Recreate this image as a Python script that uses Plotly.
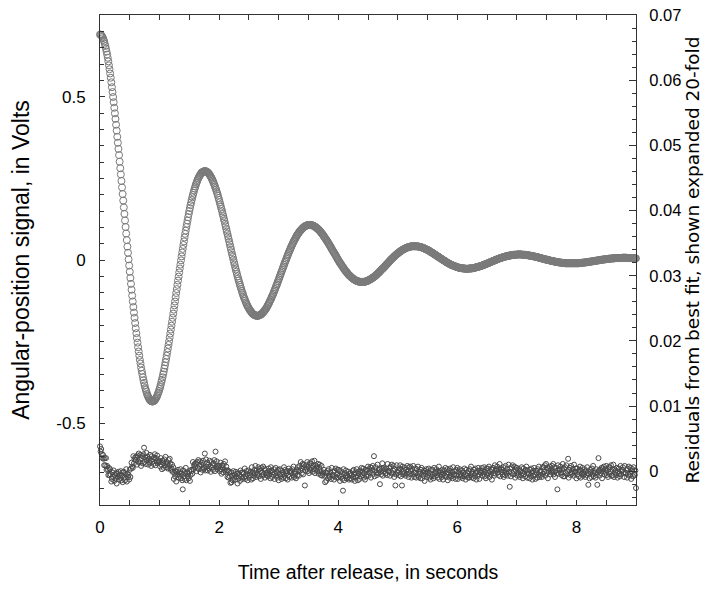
import numpy as np
import plotly.graph_objects as go

# ---- data ----
# Angular-position signal in mV, sampled every 0.01 s; split into the samples at
# even hundredths (t = 0.00, 0.02, ...) and odd hundredths (t = 0.01, 0.03, ...).
sample_step_s = 0.01
signal_mV_even = [
    690, 688, 683, 674, 662, 647, 629, 608, 584, 558, 529, 499, 466, 432, 396, 359, 321, 281, 242, 202, 161, 121,
    81, 41, 2, -36, -73, -109, -144, -177, -209, -239, -267, -293, -317, -339, -359, -376, -392, -404, -415, -423, -429, -432,
    -433, -432, -429, -423, -416, -406, -395, -382, -367, -350, -332, -313, -293, -271, -249, -225, -201, -177, -152, -127, -101, -76,
    -51, -26, -1, 23, 46, 69, 90, 111, 131, 150, 168, 184, 199, 213, 225, 236, 246, 254, 260, 266, 269, 271,
    272, 271, 269, 266, 261, 255, 248, 240, 230, 220, 209, 197, 184, 170, 156, 141, 126, 111, 95, 80, 64, 48,
    32, 16, 1, -14, -29, -43, -57, -70, -82, -94, -105, -116, -125, -134, -142, -148, -154, -159, -164, -167, -169, -170,
    -171, -170, -169, -167, -164, -160, -156, -151, -145, -138, -131, -123, -115, -107, -98, -89, -79, -70, -60, -50, -40, -30,
    -20, -10, -1, 9, 18, 27, 36, 44, 52, 59, 66, 73, 79, 84, 89, 93, 97, 100, 103, 105, 106, 107,
    107, 107, 106, 105, 103, 101, 98, 95, 91, 87, 82, 78, 72, 67, 62, 56, 50, 44, 38, 31, 25, 19,
    13, 6, 0, -6, -11, -17, -22, -28, -33, -37, -42, -46, -49, -53, -56, -59, -61, -63, -65, -66, -67, -67,
    -67, -67, -67, -66, -65, -63, -61, -59, -57, -54, -52, -49, -46, -42, -39, -35, -31, -27, -24, -20, -16, -12,
    -8, -4, 0, 4, 7, 11, 14, 17, 20, 23, 26, 29, 31, 33, 35, 37, 38, 39, 41, 41, 42, 42,
    42, 42, 42, 41, 41, 40, 39, 37, 36, 34, 32, 31, 29, 26, 24, 22, 20, 17, 15, 12, 10, 7,
    5, 3, 0, -2, -4, -7, -9, -11, -13, -15, -16, -18, -19, -21, -22, -23, -24, -25, -25, -26, -26, -27,
    -27, -27, -26, -26, -26, -25, -24, -23, -22, -21, -20, -19, -18, -17, -15, -14, -12, -11, -9, -8, -6, -5,
    -3, -2, 0, 1, 3, 4, 6, 7, 8, 9, 10, 11, 12, 13, 14, 14, 15, 16, 16, 16, 17, 17,
    17, 17, 17, 16, 16, 16, 15, 15, 14, 13, 13, 12, 11, 10, 10, 9, 8, 7, 6, 5, 4, 3,
    2, 1, 0, -1, -2, -3, -3, -4, -5, -6, -6, -7, -8, -8, -9, -9, -9, -10, -10, -10, -10, -10,
    -10, -10, -10, -10, -10, -10, -10, -9, -9, -8, -8, -8, -7, -7, -6, -5, -5, -4, -4, -3, -2, -2,
    -1, -1, 0, 1, 1, 2, 2, 3, 3, 4, 4, 4, 5, 5, 5, 6, 6, 6, 6, 6, 6, 7,
    7, 7, 7, 6, 6, 6, 6, 6, 6, 5, 5,
]
signal_mV_odd = [
    690, 686, 679, 669, 655, 638, 619, 596, 571, 544, 514, 483, 449, 414, 377, 340, 301, 262, 222, 182, 141, 101,
    61, 22, -17, -55, -91, -127, -161, -193, -224, -253, -280, -306, -329, -349, -368, -384, -398, -410, -419, -426, -431, -433,
    -433, -431, -426, -420, -411, -401, -389, -374, -359, -342, -323, -303, -282, -260, -237, -213, -189, -164, -139, -114, -89, -63,
    -38, -14, 11, 34, 57, 80, 101, 121, 141, 159, 176, 192, 206, 219, 231, 241, 250, 257, 263, 268, 270, 272,
    272, 271, 268, 264, 258, 252, 244, 235, 225, 215, 203, 190, 177, 163, 149, 134, 119, 103, 87, 72, 56, 40,
    24, 9, -7, -22, -36, -50, -63, -76, -88, -100, -111, -120, -130, -138, -145, -152, -157, -162, -165, -168, -170, -171,
    -171, -170, -168, -166, -162, -158, -153, -148, -141, -135, -127, -120, -111, -103, -93, -84, -75, -65, -55, -45, -35, -25,
    -15, -5, 4, 14, 23, 31, 40, 48, 56, 63, 69, 76, 81, 87, 91, 95, 99, 102, 104, 106, 107, 107,
    107, 107, 106, 104, 102, 99, 96, 93, 89, 85, 80, 75, 70, 64, 59, 53, 47, 41, 34, 28, 22, 16,
    10, 3, -3, -9, -14, -20, -25, -30, -35, -39, -44, -48, -51, -54, -57, -60, -62, -64, -65, -66, -67, -67,
    -67, -67, -66, -65, -64, -62, -60, -58, -56, -53, -50, -47, -44, -40, -37, -33, -29, -26, -22, -18, -14, -10,
    -6, -2, 2, 5, 9, 12, 16, 19, 22, 25, 27, 30, 32, 34, 36, 38, 39, 40, 41, 42, 42, 42,
    42, 42, 42, 41, 40, 39, 38, 37, 35, 33, 32, 30, 28, 25, 23, 21, 18, 16, 14, 11, 9, 6,
    4, 1, -1, -3, -6, -8, -10, -12, -14, -16, -17, -19, -20, -21, -23, -24, -24, -25, -26, -26, -26, -27,
    -27, -26, -26, -26, -25, -25, -24, -23, -22, -21, -20, -19, -17, -16, -15, -13, -12, -10, -9, -7, -5, -4,
    -2, -1, 1, 2, 4, 5, 6, 7, 9, 10, 11, 12, 13, 13, 14, 15, 15, 16, 16, 16, 17, 17,
    17, 17, 16, 16, 16, 15, 15, 14, 14, 13, 12, 12, 11, 10, 9, 8, 7, 6, 5, 4, 3, 2,
    1, 1, 0, -1, -2, -3, -4, -5, -5, -6, -7, -7, -8, -8, -9, -9, -10, -10, -10, -10, -10, -10,
    -10, -10, -10, -10, -10, -10, -9, -9, -9, -8, -8, -7, -7, -6, -6, -5, -5, -4, -3, -3, -2, -2,
    -1, 0, 0, 1, 1, 2, 2, 3, 3, 4, 4, 5, 5, 5, 6, 6, 6, 6, 6, 6, 7, 7,
    7, 7, 6, 6, 6, 6, 6, 6, 5, 5,
]

# Residuals from the best fit, in units of 1e-4 V, one every 0.01 s
residual_1e4V = [
    38, 30, 34, 26, 20, 25, 19, 9, 20, 9, 20, 2, 8, 3, -6, 5, -6, 3, -5, -16,
    -12, -2, -9, 1, -15, -6, -11, -3, -19, -4, -8, -1, -13, -5, -10, 0, -14, -7, -17, -2,
    -1, -10, -14, -5, 3, -16, -4, -9, -6, -13, 2, -9, 4, 13, 7, 5, 23, 12, 18, 21,
    17, 22, 10, 24, 15, 27, 13, 18, 25, 8, 20, 23, 12, 26, 36, 14, 21, 11, 28, 17,
    22, 10, 19, 13, 25, 16, 8, 23, 14, 18, 11, 21, 26, 9, 20, 15, 24, 12, 17, 14,
    15, 7, 20, 10, 3, 16, 13, 5, 18, 9, 22, 6, 14, 11, 4, 17, 8, 19, 12, 2,
    4, 10, -1, 6, -12, -3, -8, 0, -16, -1, -5, 2, -10, -2, -7, 3, -11, -4, -14, -28,
    1, -8, -12, -3, 5, -14, -2, -7, -4, -11, 0, -15, -6, 2, 0, -4, 14, 3, 9, 11,
    7, 12, 0, 14, 5, 17, 3, 8, 15, -2, 10, 13, 2, 16, 6, 4, 27, 1, 18, 7,
    13, 1, 10, 4, 16, 7, -1, 14, 5, 9, 2, 12, 17, 0, 30, 6, 15, 3, 8, 5,
    8, 0, 13, 3, -4, 9, 6, -2, 11, 2, 15, -1, 7, 1, -9, 1, -10, -1, -8, -18,
    -2, -17, -7, -14, 0, -10, -5, -13, -1, -8, -4, -19, -3, -11, -6, -15, 1, -9, -2, -12,
    -2, -4, -9, 4, -12, -8, 0, -5, -14, 1, -10, -3, -6, -1, -13, 6, -2, -11, -7, 2,
    -3, 8, -9, 1, -6, -4, 6, -8, 3, 0, -12, 5, -2, -7, 7, -5, 4, -10, 2, -3,
    -6, -3, -8, 4, -5, 0, -11, 6, 1, -9, -2, -6, 3, -12, -4, 5, -7, -1, -10, 2,
    -14, -4, 3, -8, 1, -12, -5, -2, -10, 6, -7, 2, -11, -3, 0, -13, -6, 4, -9, -1,
    1, -2, -10, 3, -6, 7, -9, -1, -4, -11, 2, -7, 6, 1, -7, 8, 1, 14, 4, -3,
    11, -5, 10, 6, -22, 1, 9, 4, 14, 0, 7, -3, 12, 2, 12, 5, 15, -1, 8, 3,
    16, -3, 9, 4, 7, 0, 11, -4, 5, 10, 0, -6, 8, -7, -4, -2, 2, -7, -17, -2,
    -15, -3, 0, -11, 3, -7, -9, -2, -12, 5, -6, -6, -1, -13, 1, -8, 4, -10, -5, 2,
    -10, 2, -7, -15, 0, -9, -5, -12, -30, 3, -14, -3, -8, 1, -11, -6, -9, -1, -13, -4,
    -11, -3, -6, -13, 0, -9, 2, -5, -15, -2, -10, 3, -7, -14, -1, -4, -12, 1, -8, 5,
    -1, -6, 4, -10, -3, -13, 2, -8, 2, -5, 7, -7, 3, -2, 6, -10, 5, 1, 8, -4,
    23, -8, 1, 6, -2, -6, 10, -3, 2, 4, -20, -1, -5, 4, 12, -7, 5, 0, 3, -4,
    -3, 4, -6, 11, 0, 0, 5, -7, 7, -2, 10, -4, 1, 8, -9, 3, -22, -5, 9, -1,
    -3, 1, -6, 4, 9, -8, 3, -22, 7, -5, 0, -3, 5, -7, 2, -4, 8, -1, -9, 6,
    -4, 7, 0, -10, 3, -5, 8, -2, -9, 4, -2, -10, 3, -6, 7, -9, -1, -4, -11, 2,
    5, -11, -2, -7, 1, -15, 0, -4, 3, -9, -1, -6, 4, -10, -3, -13, 2, -8, 2, -5,
    -11, 5, -8, -3, -1, 3, -6, -10, -1, 7, -12, 0, -5, -2, -9, 2, -13, -4, 1, -7,
    5, -9, -4, 3, -14, -2, 1, -10, 4, -6, -8, -1, -11, 6, -5, -5, 0, -12, 2, -7,
    5, -12, -1, -6, 3, -9, -4, -7, 1, -11, -2, -8, 4, -5, -13, 2, -7, -3, -10, 0,
    -10, 3, -6, 7, -9, -1, -4, -11, 2, -7, 4, -3, -13, 0, -8, 5, -5, -12, 1, -2,
    -2, 5, -7, 1, -4, 6, -8, -1, -11, 4, -6, 4, -3, 7, -9, 0, -5, 3, -13, 2,
    5, -3, -7, 9, -4, 1, 3, 7, -2, -6, 3, 11, -8, 4, -1, 2, -5, 6, -9, 0,
    -6, 8, -2, -4, 3, -7, 10, -1, -24, 4, -8, 6, -3, 9, -5, 0, 7, -10, 2, 5,
    5, -7, -2, -5, 3, -9, 0, -6, 6, -3, -11, 4, -5, -1, -8, 2, 7, -10, 1, -4,
    -4, -11, 2, -7, 4, -3, -13, 0, -8, 5, -5, -12, 1, -2, -10, 3, -6, 7, -9, -1,
    -6, 1, -9, 6, -4, 6, -1, 9, -7, 11, -3, 5, -11, 4, 0, 7, -5, 3, -2, 8,
    -1, 11, -5, 6, -9, 0, 5, -3, -28, 9, -4, 1, 3, 7, -2, -6, 3, 11, -8, 4,
    -8, 6, -3, 9, -5, 0, 19, -10, 2, 5, -6, 8, -2, -4, 3, -7, 10, -1, -1, 4,
    -11, 4, -5, -1, -8, 2, 7, -10, 1, -4, 5, -7, -2, -5, 3, -9, 0, -6, 6, -3,
    -21, -4, -11, 2, -1, -9, 4, -5, 8, -8, 0, -3, -10, 3, -6, -21, -2, 20, 1, -7,
    2, -3, 5, -11, 4, 0, 7, -5, 3, -2, 8, -6, 1, -9, 6, -4, 6, -1, 9, -7,
    -7, 2, 10, -9, 3, -2, 1, -6, 5, -10, -1, 4, -4, -8, 8, -5, 0, 2, 6, -3,
    -9, 8, -3, -3, 2, -10, 4, -5, 7, -7, -2, 5, -12, 0, 3, -8, 6, -4, -6, 1,
    -26,
]

x_tick_vals = [0, 2, 4, 6, 8]
y_tick_vals = [-0.5, 0, 0.5]
y_tick_text = ["-0.5", "0", "0.5"]
res_tick_vals = [0, 0.01, 0.02, 0.03, 0.04, 0.05, 0.06, 0.07]
res_tick_text = ["0", "0.01", "0.02", "0.03", "0.04", "0.05", "0.06", "0.07"]

x_title = "Time after release, in seconds"
y_title = "Angular-position signal, in Volts"
y2_title = "Residuals from best fit, shown expanded 20-fold"

# ---- assemble arrays ----
t_even = np.arange(len(signal_mV_even)) * 2 * sample_step_s
t_odd = sample_step_s + np.arange(len(signal_mV_odd)) * 2 * sample_step_s
t_sig = np.concatenate([t_even, t_odd])
v_sig = np.concatenate([signal_mV_even, signal_mV_odd]) / 1000.0
order = np.argsort(t_sig)
t_sig, v_sig = t_sig[order], v_sig[order]

t_res = np.arange(len(residual_1e4V)) * sample_step_s
v_res = np.array(residual_1e4V) * 1e-4

FONT = "Liberation Sans, Arial, Helvetica, sans-serif"
WIDE_FONT = "DejaVu Sans, Liberation Sans, sans-serif"
LINE = "#333333"

fig = go.Figure()
fig.add_trace(go.Scatter(
    x=t_sig, y=v_sig, mode="markers", cliponaxis=False, showlegend=False,
    marker=dict(symbol="circle-open", size=7, color="#7a7a7a", line=dict(width=1)),
))
fig.add_trace(go.Scatter(
    x=t_res, y=v_res, yaxis="y2", mode="markers", cliponaxis=False, showlegend=False,
    marker=dict(symbol="circle-open", size=5, color="#4a4a4a", line=dict(width=1)),
))

fig.update_layout(
    width=704, height=590,
    margin=dict(l=100, r=68, t=15, b=85),
    paper_bgcolor="white", plot_bgcolor="white",
    font=dict(family=FONT, color="black"),
    showlegend=False,
    xaxis=dict(
        range=[0, 9], tickmode="array", tickvals=x_tick_vals, automargin=False,
        ticks="inside", ticklen=5, tickwidth=1, tickcolor=LINE,
        showline=True, linecolor=LINE, linewidth=1, mirror="ticks",
        showgrid=False, zeroline=False,
        minor=dict(tickmode="linear", tick0=0, dtick=0.5, ticks="inside", ticklen=5, tickcolor=LINE, showgrid=False),
        tickfont=dict(size=17), ticklabelstandoff=7,
        title=dict(text=x_title, font=dict(size=19.5), standoff=28),
    ),
    yaxis=dict(
        range=[-0.75, 0.75], tickmode="array", tickvals=y_tick_vals, ticktext=y_tick_text, automargin=False,
        ticks="inside", ticklen=5, tickwidth=1, tickcolor=LINE,
        showline=True, linecolor=LINE, linewidth=1,
        showgrid=False, zeroline=False,
        minor=dict(tickmode="linear", tick0=0, dtick=0.05, ticks="inside", ticklen=4, tickcolor=LINE, showgrid=False),
        tickfont=dict(size=17), ticklabelstandoff=10,
        title=dict(text=y_title, font=dict(size=23), standoff=20),
    ),
    yaxis2=dict(
        overlaying="y", side="right", range=[-0.0052, 0.07005], automargin=False,
        tickmode="array", tickvals=res_tick_vals, ticktext=res_tick_text,
        ticks="inside", ticklen=7, tickwidth=1, tickcolor=LINE,
        showline=True, linecolor=LINE, linewidth=1,
        showgrid=False, zeroline=False, ticklabeloverflow="allow",
        minor=dict(tickmode="linear", tick0=0, dtick=0.002, ticks="inside", ticklen=4, tickcolor=LINE, showgrid=False),
        tickfont=dict(size=16.5), ticklabelstandoff=9,
        title=dict(text=y2_title, font=dict(family=WIDE_FONT, size=18.5), standoff=5),
    ),
)

# remove the default page-body margin so the figure sits at the window's top-left corner
fig.write_html(
    "out.html",
    config={"displayModeBar": False, "staticPlot": True},
    post_script="document.body.style.margin='0';",
)
